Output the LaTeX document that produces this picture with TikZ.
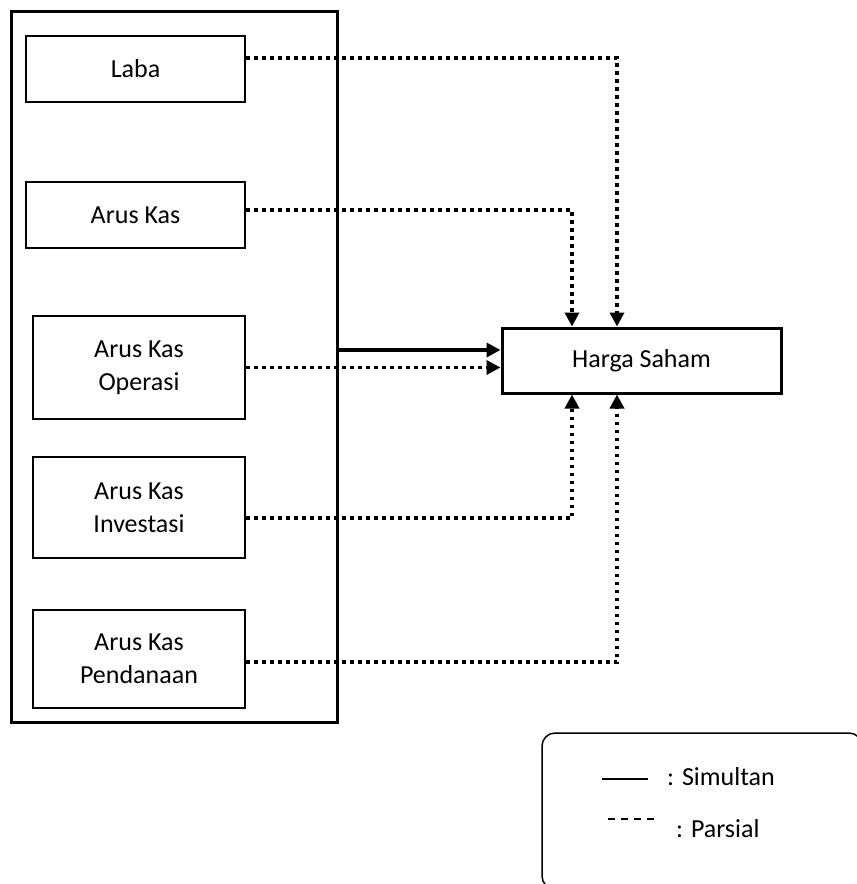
\documentclass[tikz,border=0pt]{standalone}
\usepackage{fontspec}
\setmainfont{Carlito}
\usepackage{tikz}
\usetikzlibrary{arrows.meta, positioning, calc}

\begin{document}
\begin{tikzpicture}[
    x=1pt, y=-1pt,
    varbox/.style={draw, line width=2pt, minimum width=212pt, minimum height=#1, inner sep=0pt, align=center, font=\fontsize{26}{33}\selectfont},
    parsial/.style={line width=3.5pt, dash pattern=on 3.5pt off 4.5pt, -{Triangle[length=14pt,width=14pt]}},
    simultan/.style={line width=4.5pt, -{Triangle[length=14pt,width=14pt]}},
    legendtext/.style={anchor=west, inner sep=0pt, font=\fontsize{26}{33}\selectfont}
]
    \useasboundingbox (0,0) rectangle (857,884);
    \clip (0,0) rectangle (857,884);

    % Outer panel with the independent variables
    \node[draw, line width=3pt, minimum width=326pt, minimum height=711pt] (panel) at (174,366.5) {};

    \node[varbox=66pt, minimum width=219pt] (laba) at (135.5,69) {Laba};
    \node[varbox=66pt, minimum width=219pt] (kas) at (135.5,215) {Arus Kas};
    \node[varbox=103pt] (operasi) at (139,367.5) {Arus Kas\\Operasi};
    \node[varbox=101pt] (investasi) at (139,507.5) {Arus Kas\\Investasi};
    \node[varbox=98pt] (pendanaan) at (139,659) {Arus Kas\\Pendanaan};

    % Dependent variable
    \node[draw, line width=3pt, minimum width=279pt, minimum height=65pt, inner sep=0pt, font=\fontsize{26}{33}\selectfont] (harga) at (641.5,360.5) {Harga Saham};

    % Simultaneous effect
    \draw[simultan] ([yshift=10.5pt]harga.west -| panel.east) -- ([yshift=10.5pt]harga.west);

    % Partial effects
    \draw[parsial] ([yshift=11pt]laba.east) -| ([xshift=-24.5pt]harga.north);
    \draw[parsial] ([yshift=5pt]kas.east) -| ([xshift=-69.5pt]harga.north);
    \draw[parsial] (operasi.east) -- (operasi.east -| harga.west);
    \draw[parsial] ([yshift=-10.5pt]investasi.east) -| ([xshift=-69.5pt]harga.south);
    \draw[parsial] ([yshift=-3pt]pendanaan.east) -| ([xshift=-24.5pt]harga.south);

    % Legend
    \node[draw, line width=1.5pt, rounded corners=13pt, minimum width=320pt, minimum height=156pt] (legend) at (702,811) {};
    \coordinate (sim1) at (602,779);
    \coordinate (sim2) at (648,779);
    \coordinate (par1) at (608,819);
    \coordinate (par2) at (657,819);
    \draw[line width=2pt] (sim1) -- (sim2);
    \draw[line width=1.5pt, dash pattern=on 7pt off 6pt] (par1) -- (par2);
    \node[legendtext] (simtext) at (667,777) {: Simultan};
    \node[legendtext] (partext) at (676,829) {: Parsial};
\end{tikzpicture}
\end{document}
